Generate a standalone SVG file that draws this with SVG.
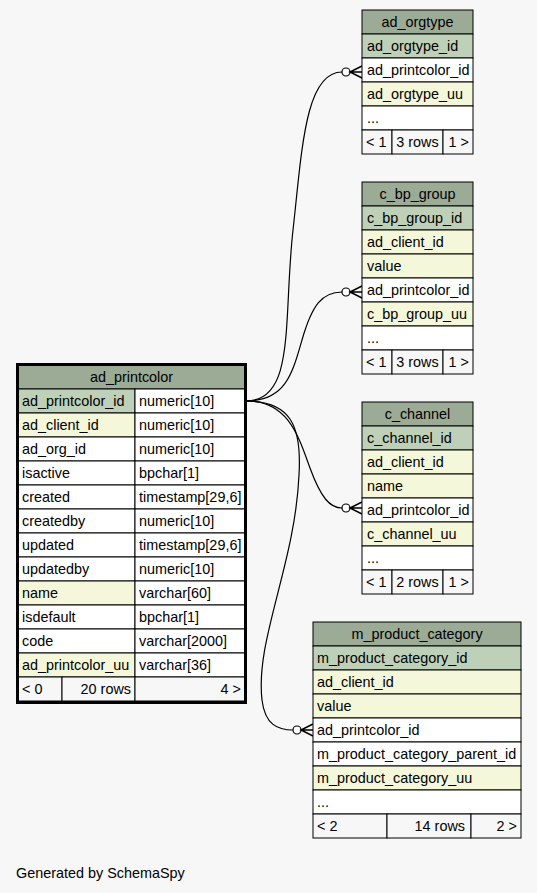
<svg xmlns="http://www.w3.org/2000/svg" width="537" height="893" viewBox="0 0 537 893">
<style>
text{font-family:"Liberation Sans",Arial,sans-serif;font-size:14.4px;fill:#000}
.h{fill:#9bab96;stroke:#000;stroke-width:1}
.pk{fill:#bed1b8;stroke:#000;stroke-width:1}
.ix{fill:#f4f7da;stroke:#000;stroke-width:1}
.w{fill:#ffffff;stroke:#000;stroke-width:1}
.f{fill:#f7f7f7;stroke:#000;stroke-width:1}
.c{text-anchor:middle}
.r{text-anchor:end}
.edge{fill:none;stroke:#000;stroke-width:1.2}
.dot{fill:#fff;stroke:#000;stroke-width:1.2}
.crow{fill:none;stroke:#000;stroke-width:1.5}
</style>
<rect x="0" y="0" width="537" height="893" fill="#f7f7f7"/>

<g id="connectors">
  <path class="edge" d="M246,401 C296,401 283,320 293,230 C302,150 305,72 342,72"/>
  <path class="edge" d="M246,401 C285,401 292,375 302,340 C312,305 322,292 342,292"/>
  <path class="edge" d="M246,401 C288,401 298,435 310,468 C321,498 330,508 342,508"/>
  <path class="edge" d="M246,401 C290,401 302,425 299,475 C295,565 255,640 262,700 C265,725 278,730 293,730"/>
  <circle class="dot" cx="346" cy="72" r="4"/>
  <path class="crow" d="M362,66 L350,72 L362,78 M350,72 L362,72"/>
  <circle class="dot" cx="346" cy="292" r="4"/>
  <path class="crow" d="M362,286 L350,292 L362,298 M350,292 L362,292"/>
  <circle class="dot" cx="346" cy="508" r="4"/>
  <path class="crow" d="M362,502 L350,508 L362,514 M350,508 L362,508"/>
  <circle class="dot" cx="297" cy="730" r="4"/>
  <path class="crow" d="M313,724 L301,730 L313,736 M301,730 L313,730"/>
</g>

<g id="ad_orgtype">
  <rect class="h" x="362" y="10" width="111" height="24"/>
  <text class="c" x="417.5" y="27">ad_orgtype</text>
  <rect class="pk" x="362" y="34" width="111" height="24"/>
  <text x="367" y="51">ad_orgtype_id</text>
  <rect class="w" x="362" y="58" width="111" height="24"/>
  <text x="367" y="75">ad_printcolor_id</text>
  <rect class="ix" x="362" y="82" width="111" height="24"/>
  <text x="367" y="99">ad_orgtype_uu</text>
  <rect class="w" x="362" y="106" width="111" height="24"/>
  <text x="367" y="123">...</text>
  <rect class="f" x="362" y="130" width="30" height="24"/>
  <rect class="f" x="392" y="130" width="51" height="24"/>
  <rect class="f" x="443" y="130" width="30" height="24"/>
  <text x="366" y="147">&lt; 1</text>
  <text class="c" x="417.5" y="147">3 rows</text>
  <text class="r" x="469" y="147">1 &gt;</text>
</g>

<g id="c_bp_group">
  <rect class="h" x="362" y="182" width="111" height="24"/>
  <text class="c" x="417.5" y="199">c_bp_group</text>
  <rect class="pk" x="362" y="206" width="111" height="24"/>
  <text x="367" y="223">c_bp_group_id</text>
  <rect class="ix" x="362" y="230" width="111" height="24"/>
  <text x="367" y="247">ad_client_id</text>
  <rect class="ix" x="362" y="254" width="111" height="24"/>
  <text x="367" y="271">value</text>
  <rect class="w" x="362" y="278" width="111" height="24"/>
  <text x="367" y="295">ad_printcolor_id</text>
  <rect class="ix" x="362" y="302" width="111" height="24"/>
  <text x="367" y="319">c_bp_group_uu</text>
  <rect class="w" x="362" y="326" width="111" height="24"/>
  <text x="367" y="343">...</text>
  <rect class="f" x="362" y="350" width="30" height="24"/>
  <rect class="f" x="392" y="350" width="51" height="24"/>
  <rect class="f" x="443" y="350" width="30" height="24"/>
  <text x="366" y="367">&lt; 1</text>
  <text class="c" x="417.5" y="367">3 rows</text>
  <text class="r" x="469" y="367">1 &gt;</text>
</g>

<g id="c_channel">
  <rect class="h" x="362" y="402" width="111" height="24"/>
  <text class="c" x="417.5" y="419">c_channel</text>
  <rect class="pk" x="362" y="426" width="111" height="24"/>
  <text x="367" y="443">c_channel_id</text>
  <rect class="ix" x="362" y="450" width="111" height="24"/>
  <text x="367" y="467">ad_client_id</text>
  <rect class="ix" x="362" y="474" width="111" height="24"/>
  <text x="367" y="491">name</text>
  <rect class="w" x="362" y="498" width="111" height="24"/>
  <text x="367" y="515">ad_printcolor_id</text>
  <rect class="ix" x="362" y="522" width="111" height="24"/>
  <text x="367" y="539">c_channel_uu</text>
  <rect class="w" x="362" y="546" width="111" height="24"/>
  <text x="367" y="563">...</text>
  <rect class="f" x="362" y="570" width="30" height="24"/>
  <rect class="f" x="392" y="570" width="51" height="24"/>
  <rect class="f" x="443" y="570" width="30" height="24"/>
  <text x="366" y="587">&lt; 1</text>
  <text class="c" x="417.5" y="587">2 rows</text>
  <text class="r" x="469" y="587">1 &gt;</text>
</g>

<g id="m_product_category">
  <rect class="h" x="313" y="622" width="208" height="24"/>
  <text class="c" x="417" y="639">m_product_category</text>
  <rect class="pk" x="313" y="646" width="208" height="24"/>
  <text x="317" y="663">m_product_category_id</text>
  <rect class="ix" x="313" y="670" width="208" height="24"/>
  <text x="317" y="687">ad_client_id</text>
  <rect class="ix" x="313" y="694" width="208" height="24"/>
  <text x="317" y="711">value</text>
  <rect class="w" x="313" y="718" width="208" height="24"/>
  <text x="317" y="735">ad_printcolor_id</text>
  <rect class="w" x="313" y="742" width="208" height="24"/>
  <text x="317" y="759">m_product_category_parent_id</text>
  <rect class="ix" x="313" y="766" width="208" height="24"/>
  <text x="317" y="783">m_product_category_uu</text>
  <rect class="w" x="313" y="790" width="208" height="24"/>
  <text x="317" y="807">...</text>
  <rect class="f" x="313" y="814" width="74" height="24"/>
  <rect class="f" x="387" y="814" width="84" height="24"/>
  <rect class="f" x="471" y="814" width="50" height="24"/>
  <text x="317" y="831">&lt; 2</text>
  <text class="r" x="465" y="831">14 rows</text>
  <text class="r" x="517" y="831">2 &gt;</text>
</g>

<g id="ad_printcolor">
  <rect class="h" x="18" y="365" width="227" height="24"/>
  <text class="c" x="131.5" y="382">ad_printcolor</text>
  <rect class="pk" x="18" y="389" width="117" height="24"/><rect class="w" x="135" y="389" width="110" height="24"/>
  <text x="22" y="406">ad_printcolor_id</text><text x="139" y="406">numeric[10]</text>
  <rect class="ix" x="18" y="413" width="117" height="24"/><rect class="w" x="135" y="413" width="110" height="24"/>
  <text x="22" y="430">ad_client_id</text><text x="139" y="430">numeric[10]</text>
  <rect class="w" x="18" y="437" width="117" height="24"/><rect class="w" x="135" y="437" width="110" height="24"/>
  <text x="22" y="454">ad_org_id</text><text x="139" y="454">numeric[10]</text>
  <rect class="w" x="18" y="461" width="117" height="24"/><rect class="w" x="135" y="461" width="110" height="24"/>
  <text x="22" y="478">isactive</text><text x="139" y="478">bpchar[1]</text>
  <rect class="w" x="18" y="485" width="117" height="24"/><rect class="w" x="135" y="485" width="110" height="24"/>
  <text x="22" y="502">created</text><text x="139" y="502">timestamp[29,6]</text>
  <rect class="w" x="18" y="509" width="117" height="24"/><rect class="w" x="135" y="509" width="110" height="24"/>
  <text x="22" y="526">createdby</text><text x="139" y="526">numeric[10]</text>
  <rect class="w" x="18" y="533" width="117" height="24"/><rect class="w" x="135" y="533" width="110" height="24"/>
  <text x="22" y="550">updated</text><text x="139" y="550">timestamp[29,6]</text>
  <rect class="w" x="18" y="557" width="117" height="24"/><rect class="w" x="135" y="557" width="110" height="24"/>
  <text x="22" y="574">updatedby</text><text x="139" y="574">numeric[10]</text>
  <rect class="ix" x="18" y="581" width="117" height="24"/><rect class="w" x="135" y="581" width="110" height="24"/>
  <text x="22" y="598">name</text><text x="139" y="598">varchar[60]</text>
  <rect class="w" x="18" y="605" width="117" height="24"/><rect class="w" x="135" y="605" width="110" height="24"/>
  <text x="22" y="622">isdefault</text><text x="139" y="622">bpchar[1]</text>
  <rect class="w" x="18" y="629" width="117" height="24"/><rect class="w" x="135" y="629" width="110" height="24"/>
  <text x="22" y="646">code</text><text x="139" y="646">varchar[2000]</text>
  <rect class="ix" x="18" y="653" width="117" height="24"/><rect class="w" x="135" y="653" width="110" height="24"/>
  <text x="22" y="670">ad_printcolor_uu</text><text x="139" y="670">varchar[36]</text>
  <rect class="f" x="18" y="677" width="44" height="24"/>
  <rect class="f" x="62" y="677" width="73" height="24"/>
  <rect class="f" x="135" y="677" width="110" height="24"/>
  <text x="22" y="694">&lt; 0</text>
  <text class="r" x="131" y="694">20 rows</text>
  <text class="r" x="241" y="694">4 &gt;</text>
  <rect x="17.5" y="364.5" width="228" height="338" fill="none" stroke="#000" stroke-width="3"/>
</g>

<text x="16" y="878">Generated by SchemaSpy</text>
</svg>
